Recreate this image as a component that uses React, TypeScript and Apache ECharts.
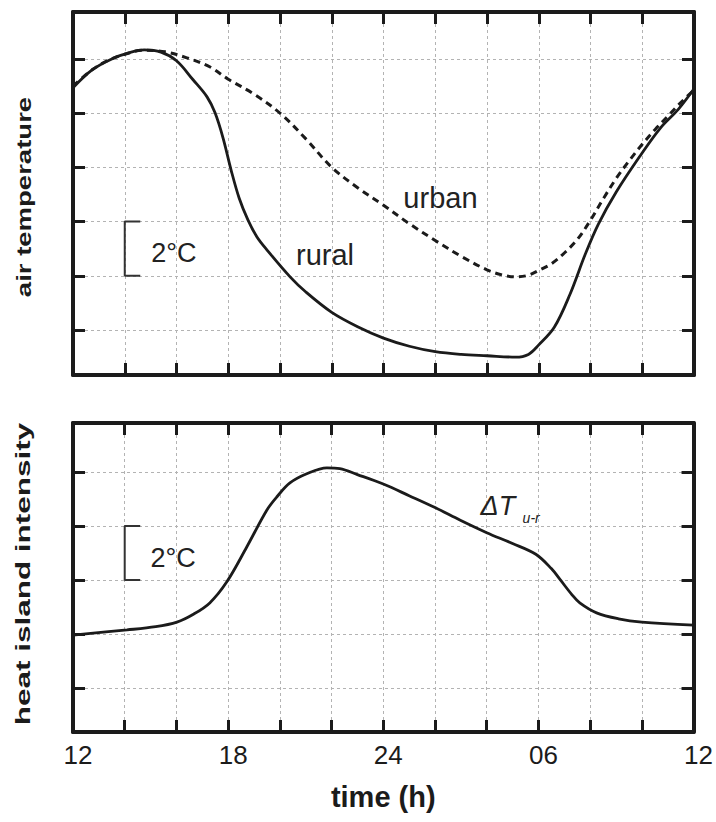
import React, { useEffect, useRef } from "react";
import * as echarts from "echarts";

// ---- data (hours since 12h on day 1; temperatures in °C relative units) ----
const hourTicks = [12, 18, 24, 30, 36];
const hourTickLabels = ["12", "18", "24", "06", "12"];

const ruralHours = [12, 12.75, 13.5, 14.25, 14.75, 15.4, 16, 16.64, 17.18, 17.49, 17.8, 18.11, 18.42, 18.76, 19.11, 19.5, 20.39, 21, 22, 23, 24, 25, 26, 27, 28, 29.1, 29.6, 30, 30.6, 31.2, 31.8, 32.3, 33, 33.9, 34.7, 35.4, 36];
const ruralTemp = [8.93, 9.6, 10.0, 10.25, 10.33, 10.25, 9.93, 9.23, 8.6, 8.01, 7.08, 5.9, 4.87, 4.06, 3.43, 2.95, 1.96, 1.4, 0.65, 0.12, -0.3, -0.6, -0.8, -0.9, -0.95, -1.0, -0.9, -0.55, 0.1, 1.3, 2.8, 3.9, 5.1, 6.4, 7.45, 8.15, 8.9];

const urbanHours = [12, 12.77, 13.43, 14.0, 14.7, 15.56, 16.4, 17.3, 18, 19, 20, 21, 22, 23, 24, 25, 26, 27, 28, 28.6, 29.1, 29.6, 30, 30.5, 31, 31.5, 32, 32.5, 33, 33.5, 34, 34.5, 35, 35.5, 36];
const urbanTemp = [9.0, 9.62, 9.98, 10.17, 10.32, 10.26, 10.04, 9.7, 9.25, 8.7, 8.0, 7.05, 6.0, 5.25, 4.6, 3.92, 3.3, 2.72, 2.22, 2.03, 1.96, 2.02, 2.2, 2.45, 2.85, 3.35, 4.05, 4.85, 5.6, 6.25, 6.85, 7.4, 7.9, 8.4, 8.85];

const islandHours = [12, 14.09, 15.2, 16.02, 16.64, 17.29, 17.95, 18.72, 19.5, 19.88, 20.39, 21.04, 21.82, 22.32, 23, 24, 25, 26, 27, 28, 29, 29.9, 30.5, 30.85, 31.3, 31.6, 32.25, 33.1, 34, 36];
const islandDelta = [-0.04, 0.15, 0.27, 0.44, 0.72, 1.15, 1.93, 3.22, 4.59, 5.07, 5.59, 5.93, 6.15, 6.12, 5.9, 5.55, 5.12, 4.68, 4.2, 3.75, 3.35, 2.95, 2.42, 2.0, 1.45, 1.15, 0.78, 0.56, 0.44, 0.33];

// 2°C scale bar (bracket) in data units
const scaleBarHours = [14.6, 14, 14, 14.6];
const scaleBarTemps = [4, 4, 2, 2];

// axis ranges
const hourMin = 12;
const hourMax = 36;
const tempRangeTop = [-1.66, 11.73];
const tempRangeBottom = [-3.63, 7.81];

const INK = "#1b1b1b";
const FONT = "'Liberation Sans', Arial, Helvetica, sans-serif";

const zip = (a: number[], b: number[]) => a.map((v, i) => [v, b[i]]);

function xAxisCfg(gridIndex: number, position: "top" | "bottom", labels: boolean, split: boolean) {
  return {
    type: "value",
    gridIndex,
    position,
    min: hourMin,
    max: hourMax,
    interval: 2,
    axisLine: { show: true, onZero: false, lineStyle: { color: INK, width: 4 } },
    axisTick: { show: true, inside: true, length: 12, lineStyle: { color: INK, width: 3 } },
    axisLabel: labels
      ? {
          show: true,
          fontSize: 26,
          fontFamily: FONT,
          color: INK,
          margin: 10,
          padding: [0, 0, 0, 10],
          showMinLabel: true,
          showMaxLabel: true,
          formatter: (v: number) => {
            const i = hourTicks.indexOf(Math.round(v));
            return i >= 0 ? hourTickLabels[i] : "";
          },
        }
      : { show: false },
    splitLine: split
      ? { show: true, lineStyle: { color: "#b3b3b3", width: 1, type: [3, 3] } }
      : { show: false },
    name: labels ? "time (h)" : "",
    nameLocation: "middle",
    nameGap: 50,
    nameTextStyle: { fontSize: 29, fontWeight: "bold", fontFamily: FONT, color: INK },
  };
}

function yAxisCfg(gridIndex: number, position: "left" | "right", range: number[], split: boolean) {
  return {
    type: "value",
    gridIndex,
    position,
    min: range[0],
    max: range[1],
    minInterval: 2,
    maxInterval: 2,
    axisLine: { show: true, onZero: false, lineStyle: { color: INK, width: 4 } },
    axisTick: { show: true, inside: true, length: 12, lineStyle: { color: INK, width: 3 } },
    axisLabel: { show: false },
    splitLine: split
      ? { show: true, lineStyle: { color: "#b3b3b3", width: 1, type: [3, 3] } }
      : { show: false },
  };
}

const curve = (name: string, xi: number, data: number[][], dashed: boolean) => ({
  name,
  type: "line",
  xAxisIndex: xi,
  yAxisIndex: xi,
  data,
  smooth: 0.35,
  showSymbol: false,
  lineStyle: dashed ? { color: INK, width: 3, type: [7, 5] } : { color: INK, width: 2.8 },
});

export default function App() {
  const ref = useRef<HTMLDivElement>(null);

  useEffect(() => {
    if (!ref.current) return;
    const chart = echarts.init(ref.current, null, { renderer: "svg" });

    const option: any = {
      animation: false,
      backgroundColor: "#ffffff",
      grid: [
        { left: 73, right: 22, top: 12, height: 363 },
        { left: 73, right: 22, top: 423, height: 309 },
      ],
      xAxis: [
        xAxisCfg(0, "bottom", false, true),
        xAxisCfg(0, "top", false, false),
        xAxisCfg(1, "bottom", true, true),
        xAxisCfg(1, "top", false, false),
      ],
      yAxis: [
        yAxisCfg(0, "left", tempRangeTop, true),
        yAxisCfg(0, "right", tempRangeTop, false),
        yAxisCfg(1, "left", tempRangeBottom, true),
        yAxisCfg(1, "right", tempRangeBottom, false),
      ],
      series: [
        curve("urban", 0, zip(urbanHours, urbanTemp), true),
        curve("rural", 0, zip(ruralHours, ruralTemp), false),
        curve("heat island intensity", 2, zip(islandHours, islandDelta), false),
        {
          name: "scale top",
          type: "line",
          xAxisIndex: 0,
          yAxisIndex: 0,
          data: zip(scaleBarHours, scaleBarTemps),
          showSymbol: false,
          lineStyle: { color: "#333", width: 2 },
        },
        {
          name: "scale bottom",
          type: "line",
          xAxisIndex: 2,
          yAxisIndex: 2,
          data: zip(scaleBarHours, scaleBarTemps),
          showSymbol: false,
          lineStyle: { color: "#333", width: 2 },
        },
      ],
    };
    chart.setOption(option);

    const top = (h: number, v: number) => chart.convertToPixel({ xAxisIndex: 0, yAxisIndex: 0 }, [h, v]) as number[];
    const bot = (h: number, v: number) => chart.convertToPixel({ xAxisIndex: 2, yAxisIndex: 2 }, [h, v]) as number[];

    const txt = (p: number[], text: string, fontSize: number, extra: any = {}) => ({
      type: "text",
      x: p[0],
      y: p[1],
      z: 100,
      style: {
        text,
        fontSize,
        fontFamily: FONT,
        fill: "#222",
        align: "center",
        verticalAlign: "middle",
        ...extra,
      },
    });

    const graphic = [
      txt(top(26.2, 4.87), "urban", 29),
      txt(top(21.74, 2.77), "rural", 29),
      txt(top(15.9, 2.84), "2°C", 27),
      txt(bot(15.87, 2.81), "2°C", 27),
      txt(bot(28.43, 4.74), "ΔT", 27, { fontStyle: "italic" }),
      txt(bot(29.72, 4.3), "u-r", 14, { fontStyle: "italic" }),
      {
        type: "text",
        x: 24,
        y: 197,
        rotation: Math.PI / 2,
        scaleX: 1.31,
        style: {
          text: "air temperature",
          fontSize: 21,
          fontWeight: "bold",
          fontFamily: FONT,
          fill: INK,
          align: "center",
          verticalAlign: "middle",
        },
      },
      {
        type: "text",
        x: 23,
        y: 574,
        rotation: Math.PI / 2,
        scaleX: 1.5,
        style: {
          text: "heat island intensity",
          fontSize: 21,
          fontWeight: "bold",
          fontFamily: FONT,
          fill: INK,
          align: "center",
          verticalAlign: "middle",
        },
      },
    ];
    chart.setOption({ graphic });

    return () => chart.dispose();
  }, []);

  return (
    <div
      ref={ref}
      style={{ position: "absolute", left: 0, top: 0, width: 716, height: 822, background: "#fff" }}
    />
  );
}
